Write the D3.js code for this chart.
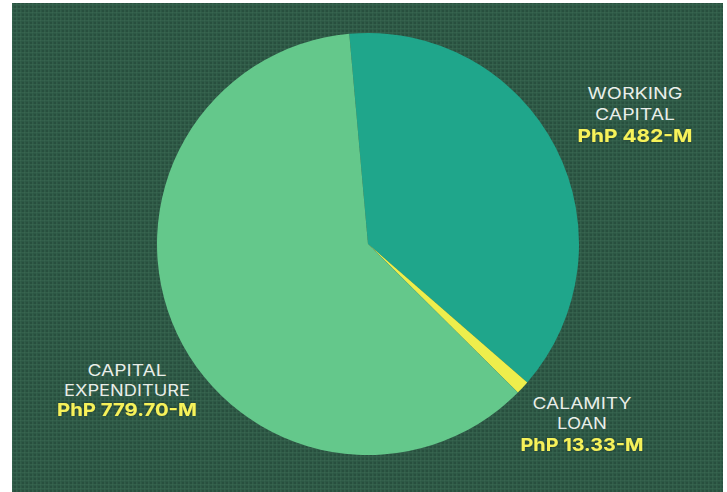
<!DOCTYPE html>
<html>
<head>
<meta charset="utf-8">
<script src="https://cdn.jsdelivr.net/npm/d3@7/dist/d3.min.js"></script>
<style>
  html, body { margin: 0; padding: 0; background: #ffffff; }
  svg { display: block; }
</style>
</head>
<body>
<svg id="chart" width="727" height="492"></svg>
<script>
// ---- data ----
const categories = ["WORKING CAPITAL", "CALAMITY LOAN", "CAPITAL EXPENDITURE"];
const values = [482, 13.33, 779.70];
const nameLines = [["WORKING", "CAPITAL"], ["CALAMITY", "LOAN"], ["CAPITAL", "EXPENDITURE"]];
const valueLabels = ["PhP 482-M", "PhP 13.33-M", "PhP 779.70-M"];

// ---- style / layout ----
const W = 727, H = 492;
const sliceColors = ["#1fa68b", "#eeee4c", "#64c88b"];
const bg = { x: 12, y: 3, w: 711, h: 489, fill: "#2d5845" };
const pieCenter = [368, 244], radius = 211;
const startDeg = -5.1;
// label layout: center x, first baseline, target widths per line
const labelLayout = [
  { x: 635, y: 99, widths: [95, 80, 115] },
  { x: 582, y: 409, widths: [99, 50, 123] },
  { x: 127, y: 376, widths: [79, 126, 140] }
];
const lineGaps = [[21, 22], [20, 22], [20, 20]];

const svg = d3.select("#chart");

// texture pattern
const defs = svg.append("defs");
const pat = defs.append("pattern").attr("id", "weave")
  .attr("width", 4).attr("height", 4).attr("patternUnits", "userSpaceOnUse");
pat.append("rect").attr("width", 4).attr("height", 4).attr("fill", bg.fill);
pat.append("rect").attr("x", 0).attr("y", 0).attr("width", 4).attr("height", 1).attr("fill", "rgba(110,160,130,0.10)");
pat.append("rect").attr("x", 0).attr("y", 0).attr("width", 1).attr("height", 4).attr("fill", "rgba(110,160,130,0.08)");
pat.append("rect").attr("x", 2).attr("y", 2).attr("width", 2).attr("height", 2).attr("fill", "rgba(15,40,28,0.18)");

const shadow = defs.append("filter").attr("id", "glow").attr("x", "-10%").attr("y", "-30%").attr("width", "120%").attr("height", "160%");
shadow.append("feDropShadow").attr("dx", 0).attr("dy", 0).attr("stdDeviation", 1.2).attr("flood-color", "#1a3326").attr("flood-opacity", 0.9);

svg.append("rect").attr("x", bg.x).attr("y", bg.y).attr("width", bg.w).attr("height", bg.h).attr("fill", bg.fill);
svg.append("rect").attr("x", bg.x).attr("y", bg.y).attr("width", bg.w).attr("height", bg.h).attr("fill", "url(#weave)");

// pie
const start = startDeg * Math.PI / 180;
const pie = d3.pie().sort(null).value(d => d).startAngle(start).endAngle(start + 2 * Math.PI);
const arc = d3.arc().innerRadius(0).outerRadius(radius);
const g = svg.append("g").attr("transform", `translate(${pieCenter[0]},${pieCenter[1]})`);
g.selectAll("path").data(pie(values)).join("path")
  .attr("d", arc)
  .attr("fill", (d, i) => sliceColors[i]);

// labels
const font = "Inter, 'DejaVu Sans', sans-serif";
categories.forEach((c, i) => {
  const L = labelLayout[i];
  const lines = nameLines[i];
  const gaps = lineGaps[i];
  const t = svg.append("g");
  let y = L.y;
  lines.forEach((ln, j) => {
    t.append("text")
      .attr("x", L.x).attr("y", y)
      .attr("text-anchor", "middle")
      .attr("font-family", font).attr("font-size", 16).attr("font-weight", 400)
      .attr("fill", "#e9eee9")
      .attr("textLength", L.widths[j]).attr("lengthAdjust", "spacingAndGlyphs")
      .text(ln);
    y += gaps[j];
  });
  t.append("text")
    .attr("x", L.x).attr("y", y)
    .attr("text-anchor", "middle")
    .attr("font-family", font).attr("font-size", 18).attr("font-weight", 700)
    .attr("fill", "#f6f25a")
    .attr("filter", "url(#glow)")
    .attr("textLength", L.widths[lines.length]).attr("lengthAdjust", "spacingAndGlyphs")
    .text(valueLabels[i]);
});
</script>
</body>
</html>
